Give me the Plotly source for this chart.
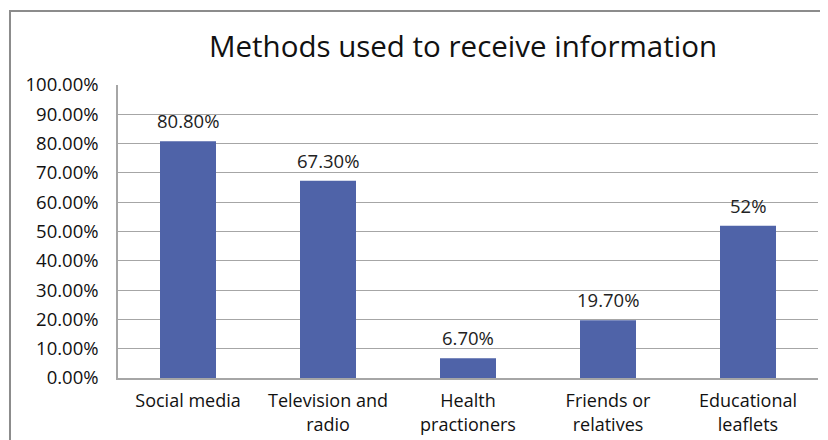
import plotly.graph_objects as go

categories = ["Social media", "Television and<br>radio", "Health<br>practioners",
              "Friends or<br>relatives", "Educational<br>leaflets"]
values = [0.808, 0.673, 0.067, 0.197, 0.52]
value_labels = ["80.80%", "67.30%", "6.70%", "19.70%", "52%"]
y_ticks = [i / 10 for i in range(11)]

FONT = "Open Sans, Noto Sans, sans-serif"

fig = go.Figure(go.Bar(
    x=categories, y=values,
    marker=dict(color="#4F63A8", line=dict(width=0)),
))

for cat, val, lab in zip(categories, values, value_labels):
    fig.add_annotation(x=cat, y=val, text=lab, showarrow=False, yanchor="bottom",
                       yshift=6, font=dict(size=18.5, color="#222222", family=FONT))

fig.update_layout(
    width=828, height=440,
    margin=dict(l=110, r=18, t=77, b=70, autoexpand=False),
    paper_bgcolor="white", plot_bgcolor="white",
    bargap=0.6,
    showlegend=False,
    font=dict(family=FONT, size=18, color="#111111"),
    title=dict(text="Methods used to receive information", x=0.5495, xanchor="center",
               y=0.911, yanchor="middle", font=dict(size=29.5, color="#111111", family=FONT)),
    xaxis=dict(showline=True, linecolor="#A6A6A6", linewidth=1.5, ticks="",
               automargin=False, ticklabelstandoff=6,
               tickfont=dict(size=18, color="#111111")),
    yaxis=dict(range=[0, 1.0], tickvals=y_ticks, tickformat=".2%",
               showgrid=True, gridcolor="#A6A6A6", gridwidth=1.2,
               showline=True, linecolor="#A6A6A6", linewidth=1.5,
               zeroline=False, ticks="", ticklen=0, automargin=False,
               ticklabelstandoff=14,
               tickfont=dict(size=18.5, color="#111111")),
    shapes=[dict(type="rect", xref="paper", yref="paper",
                 x0=-0.1543, x1=1.05, y0=-0.3, y1=1.2526,
                 line=dict(color="#8C8C8C", width=2), fillcolor="rgba(0,0,0,0)", layer="below")],
)

fig.write_html("out.html")
